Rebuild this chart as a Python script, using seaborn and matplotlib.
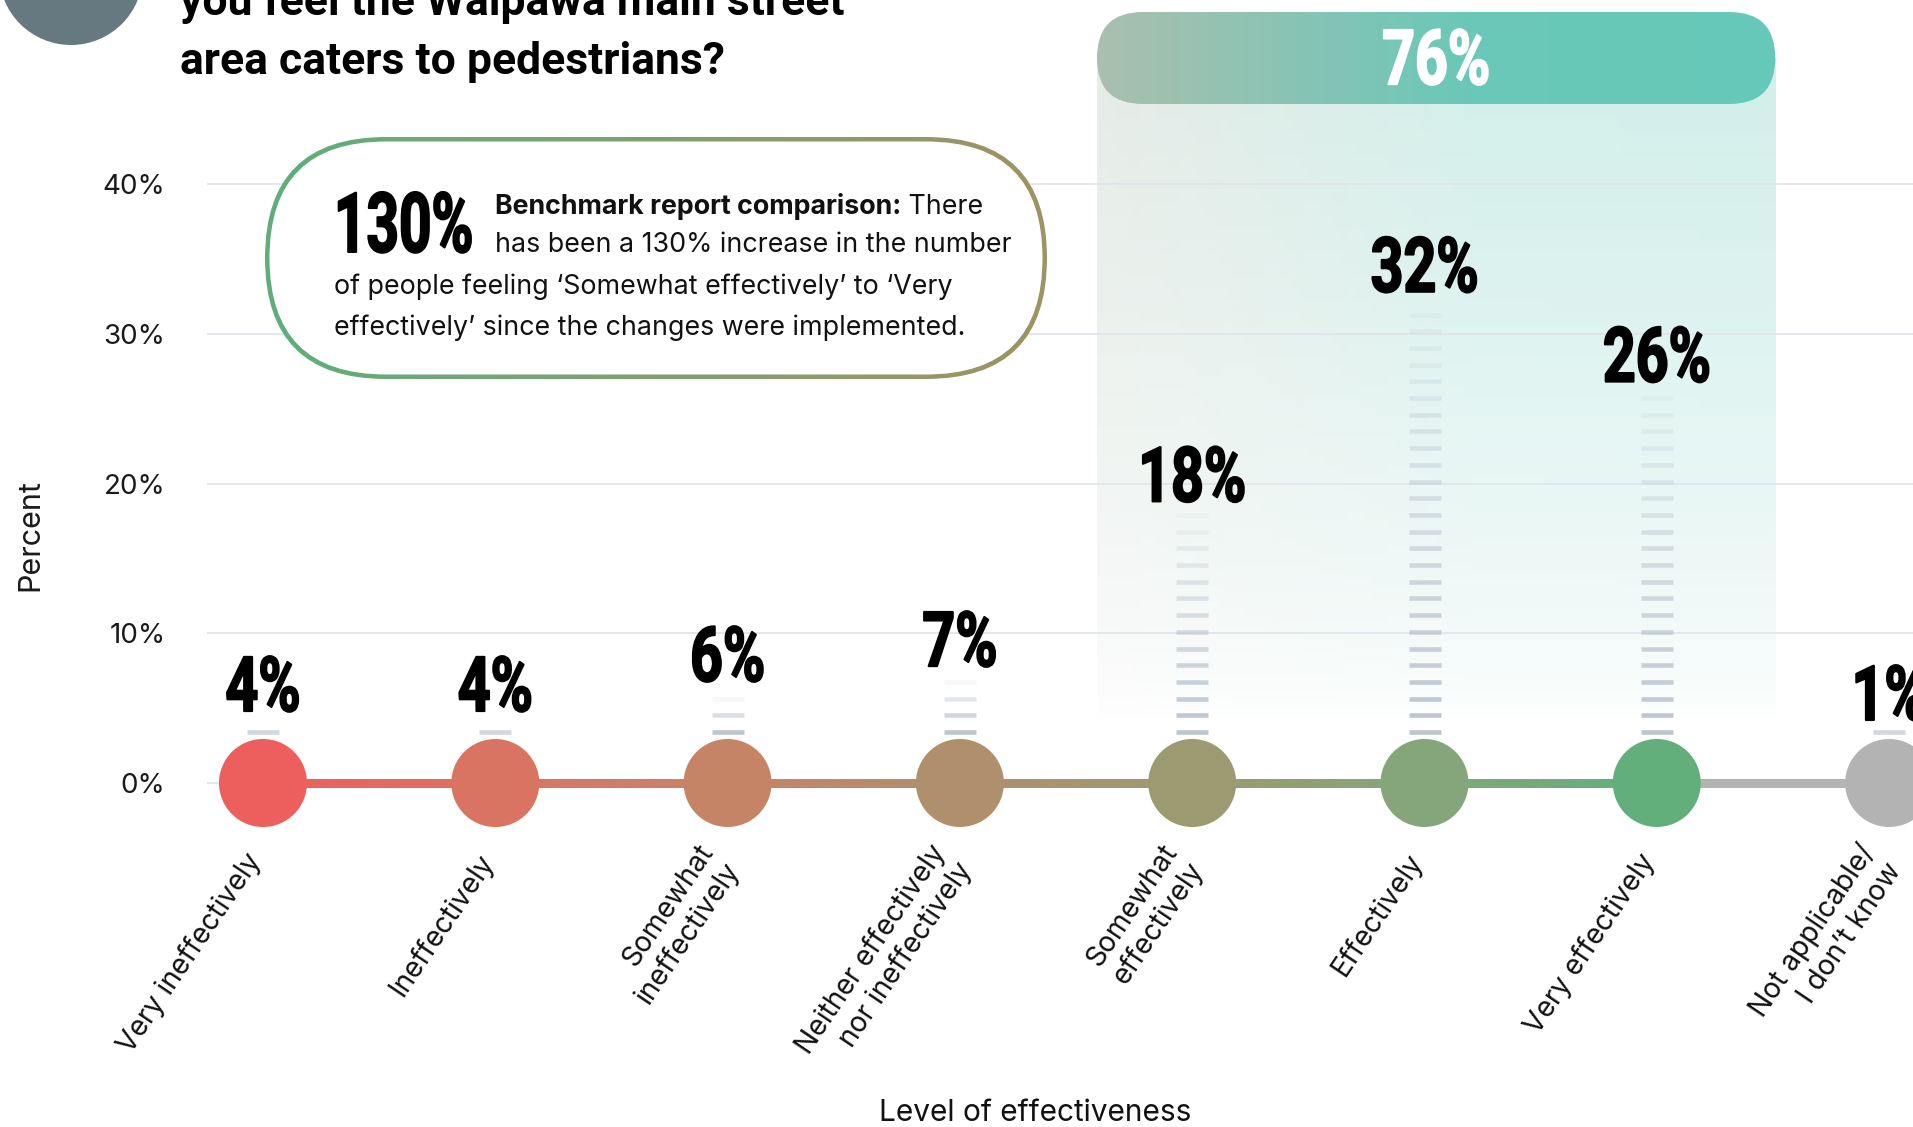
import numpy as np
import pandas as pd
import matplotlib
matplotlib.use("Agg")
import matplotlib.pyplot as plt
import seaborn as sns
from matplotlib.collections import LineCollection
from matplotlib.patches import FancyBboxPatch, Circle
from matplotlib.transforms import Affine2D, ScaledTranslation
import matplotlib.patheffects as pe
from matplotlib.colors import to_rgb

# ---------------- data ----------------
categories = ["Very ineffectively", "Ineffectively", "Somewhat\nineffectively",
              "Neither effectively\nnor ineffectively", "Somewhat\neffectively",
              "Effectively", "Very effectively", "Not applicable/\nI don\u2019t know"]
values = [4, 4, 6, 7, 18, 32, 26, 1]
marker_colors = ["#ed5f5c", "#da7462", "#c68467", "#b08f6d",
                 "#9c9a71", "#84a67a", "#62af7c", "#b3b3b3"]
positive_group = ["Somewhat\neffectively", "Effectively", "Very effectively"]
y_ticks = [0, 10, 20, 30, 40]
y_tick_labels = ["0%", "10%", "20%", "30%", "40%"]
title_lines = ["you feel the Waipawa main street", "area caters to pedestrians?"]
x_label = "Level of effectiveness"
y_label = "Percent"
callout_number = "130%"
callout_bold = "Benchmark report comparison:"
callout_lines = [" There",
                 "has been a 130% increase in the number",
                 "of people feeling \u2018Somewhat effectively\u2019 to \u2018Very",
                 "effectively\u2019 since the changes were implemented."]

# ---------------- style ----------------
sns.set_theme(style="white")
plt.rcParams["font.family"] = ["Inter", "DejaVu Sans"]
NUM_FONT = ["Roboto", "DejaVu Sans"]


class Tall(pe.AbstractPathEffect):
    """Stretch glyph outlines vertically about the baseline (condensed display look)."""
    def __init__(self, sy=1.33, stroke=0.0):
        super().__init__()
        self.sy, self.stroke = sy, stroke

    def draw_path(self, renderer, gc, tpath, affine, rgbFace=None):
        tr = Affine2D().scale(1.0, self.sy) + affine
        gc0 = renderer.new_gc()
        gc0.copy_properties(gc)
        if self.stroke > 0 and rgbFace is not None:
            gc0.set_linewidth(self.stroke)
            gc0.set_foreground(rgbFace)
            gc0.set_joinstyle("round")
        renderer.draw_path(gc0, tpath, tr, rgbFace)
        gc0.restore()


W, H = 1913, 1127
X0, DX = 263.0, 232.3      # pixel x of first category, pixels per category
Y0, DY = 783.0, 14.975     # pixel y of 0 %, pixels per percent


def px2x(xp):
    return (xp - X0) / DX


def px2y(yp):
    return (Y0 - yp) / DY


fig = plt.figure(figsize=(W / 100, H / 100), dpi=100)
fig.patch.set_facecolor("white")
ax_l, ax_r, ax_t, ax_b = 207, W, 12, 830
ax = fig.add_axes([ax_l / W, (H - ax_b) / H, (ax_r - ax_l) / W, (ax_b - ax_t) / H])
ax.set_facecolor("none")
XLIM = (px2x(ax_l), px2x(ax_r))
YLIM = (px2y(ax_b), px2y(ax_t))

df = pd.DataFrame({"category": categories, "value": values,
                   "pos": np.arange(len(categories)), "base": 0.0})


def hgrad(stops, n=256):
    xs = np.linspace(0, 1, n)
    pos = [s[0] for s in stops]
    cols = np.array([to_rgb(s[1]) for s in stops])
    out = np.zeros((1, n, 3))
    for k in range(3):
        out[0, :, k] = np.interp(xs, pos, cols[:, k])
    return out


pill_stops = [(0.0, "#aabfaf"), (0.55, "#6ac8b8"), (1.0, "#66c9b9")]
NUM_FS, NUM_SY, NUM_STROKE = 41.25, 1.0 / 0.75, 1.4

# ---------- highlighted group (shaded column + pill) ----------
gidx = [categories.index(c) for c in positive_group]
gx0, gx1 = min(gidx) - 0.41, max(gidx) + 0.51
pill_y0, pill_y1 = px2y(104), px2y(12)
pill_mid = 0.5 * (pill_y0 + pill_y1)
shade_bottom = px2y(720)
g = hgrad(pill_stops)
M = 300
shade = np.zeros((M, 256, 4))
shade[:, :, :3] = g[0][None, :, :]
t = np.linspace(1, 0, M)          # 1 at top, 0 at bottom
shade[:, :, 3] = (0.30 * t ** 0.65)[:, None]
ax.imshow(shade, extent=[gx0, gx1, shade_bottom, pill_mid], aspect="auto",
          origin="upper", zorder=0.2, interpolation="bilinear")

asp = DX / DY
pill_r = 46 / DX
pill = FancyBboxPatch((gx0, pill_y0), gx1 - gx0, pill_y1 - pill_y0,
                      boxstyle=f"round,pad=0,rounding_size={pill_r}",
                      mutation_aspect=asp, facecolor="none", edgecolor="none")
ax.add_patch(pill)
im = ax.imshow(g, extent=[gx0, gx1, pill_y0, pill_y1], aspect="auto", zorder=2.5,
               interpolation="bilinear")
im.set_clip_path(pill)
group_total = int(df.loc[df["category"].isin(positive_group), "value"].sum())
ax.text((gx0 + gx1) / 2, pill_mid - 1.75, f"{group_total}%", ha="center", va="baseline",
        fontsize=NUM_FS, fontweight="bold", family=NUM_FONT, color="white", zorder=6,
        path_effects=[Tall(NUM_SY, NUM_STROKE)])

# ---------- grid ----------
ax.set_axisbelow(True)
ax.yaxis.grid(True, color="#dfe4e9", linewidth=1.2)
ax.xaxis.grid(False)

# ---------- stems (faded dashes) ----------
STEM_START, STEM_STEP = 3.4, 16.7 / DY
stem_rgb = to_rgb("#bcc6cf")
half_w = 16 / DX
for i, v in zip(df["pos"], df["value"]):
    ys = np.arange(STEM_START, max(v, STEM_START + 0.1), STEM_STEP)
    al = np.linspace(1.0, 0.12, len(ys)) if len(ys) > 1 else np.array([0.7])
    cols = [(*stem_rgb, a) for a in al]
    ax.hlines(ys, i - half_w, i + half_w, colors=cols, linewidth=3.3, zorder=2)

# ---------- connecting gradient line ----------
segs, scol = [], []
n_cat = len(categories)
for i in range(n_cat - 1):
    c0 = np.array(to_rgb(marker_colors[i]))
    c1 = np.array(to_rgb(marker_colors[i + 1]))
    if i + 1 == n_cat - 1:
        c0 = c1
    xs = np.linspace(i, i + 1, 41)
    for k in range(40):
        segs.append([(xs[k], 0), (xs[k + 1], 0)])
        f = (k + 0.5) / 40
        scol.append(tuple(c0 * (1 - f) + c1 * f))
ax.add_collection(LineCollection(segs, colors=scol, linewidths=6.4, zorder=3,
                                 capstyle="projecting", antialiased=False))

# ---------- markers ----------
sns.scatterplot(data=df, x="pos", y="base", hue="category",
                palette=dict(zip(categories, marker_colors)), s=4014,
                linewidth=0, legend=False, zorder=4, ax=ax, clip_on=False)

# ---------- value labels ----------
for i, v in zip(df["pos"], df["value"]):
    ax.text(i, max(v, STEM_START) + 0.8, f"{v}%", ha="center", va="baseline",
            fontsize=NUM_FS, fontweight="bold", family=NUM_FONT, color="black", zorder=5,
            path_effects=[Tall(NUM_SY, NUM_STROKE)])

# ---------- callout ----------
cx0, cx1 = px2x(265), px2x(1047)
cy_top, cy_bot = px2y(137), px2y(379)
r_out = 121 / DX
outer = FancyBboxPatch((cx0, cy_bot), cx1 - cx0, cy_top - cy_bot,
                       boxstyle=f"round,pad=0,rounding_size={r_out}",
                       mutation_aspect=asp, facecolor="none", edgecolor="none")
ax.add_patch(outer)
bim = ax.imshow(hgrad([(0, "#5fae7b"), (1, "#9e9363")]),
                extent=[cx0, cx1, cy_bot, cy_top], aspect="auto", zorder=1,
                interpolation="bilinear")
bim.set_clip_path(outer)
bw = 4.5
inner = FancyBboxPatch((cx0 + bw / DX, cy_bot + bw / DY),
                       (cx1 - cx0) - 2 * bw / DX, (cy_top - cy_bot) - 2 * bw / DY,
                       boxstyle=f"round,pad=0,rounding_size={(121 - bw) / DX}",
                       mutation_aspect=asp, facecolor="white", edgecolor="none",
                       zorder=1.1)
ax.add_patch(inner)

ax.text(px2x(334), px2y(252), callout_number, ha="left", va="baseline",
        fontsize=60 * 0.68, fontweight="bold", family=NUM_FONT, color="black", zorder=5,
        path_effects=[Tall(1 / 0.68, 1.4)])
body_fs = 19.3
tb = ax.text(px2x(495), px2y(214), callout_bold, ha="left", va="baseline",
             fontsize=body_fs, fontweight="bold", color="#111111", zorder=5)
ax.set_xlim(*XLIM)
ax.set_ylim(*YLIM)
renderer = fig.canvas.get_renderer()
bb = tb.get_window_extent(renderer=renderer)
x_after = ax.transData.inverted().transform((bb.x1, bb.y0))[0]
ax.text(x_after, px2y(214), callout_lines[0], ha="left", va="baseline",
        fontsize=body_fs, color="#111111", zorder=5)
line_pos = [(495, 252), (334, 294), (334, 335)]
for (xp, yp), s in zip(line_pos, callout_lines[1:]):
    ax.text(px2x(xp), px2y(yp), s, ha="left", va="baseline",
            fontsize=body_fs, color="#111111", zorder=5)

# ---------- axes cosmetics ----------
ax.set_xlim(*XLIM)
ax.set_ylim(*YLIM)
for sp in ax.spines.values():
    sp.set_visible(False)
ax.set_yticks(y_ticks, y_tick_labels)
ax.tick_params(axis="y", length=0, pad=30, labelsize=20, labelcolor="#1a1a1a")
ax.set_xticks(df["pos"], categories, rotation=56, ha="right", va="center",
              rotation_mode="anchor")
ax.tick_params(axis="x", length=0, pad=19, labelsize=20.3, labelcolor="#111111")
shift = ScaledTranslation(-7 / 100, 0, fig.dpi_scale_trans)
for lab in ax.get_xticklabels():
    lab.set_transform(lab.get_transform() + shift)
ax.set_xlabel(x_label, fontsize=21.5, color="#111111")
ax.xaxis.set_label_coords((1035 - ax_l) / (ax_r - ax_l), (ax_b - 1099) / (ax_b - ax_t))
ax.xaxis.label.set_va("top")
ax.set_ylabel(y_label, fontsize=22, color="#1a1a1a")
ax.yaxis.set_label_coords((44 - ax_l) / (ax_r - ax_l), (ax_b - 535) / (ax_b - ax_t))

# ---------- title + badge ----------
fig.add_artist(Circle((0.71, (H + 27) / 100), 0.72, transform=fig.dpi_scale_trans,
                      facecolor="#667880", edgecolor="none"))
fig.text(180 / W, 1 - 15.5 / H, title_lines[0], ha="left", va="baseline",
         fontsize=32, fontweight="bold", family=NUM_FONT, color="black")
fig.text(180 / W, 1 - 74 / H, title_lines[1], ha="left", va="baseline",
         fontsize=32, fontweight="bold", family=NUM_FONT, color="black")

fig.savefig("out.png", dpi=100, facecolor="white")
